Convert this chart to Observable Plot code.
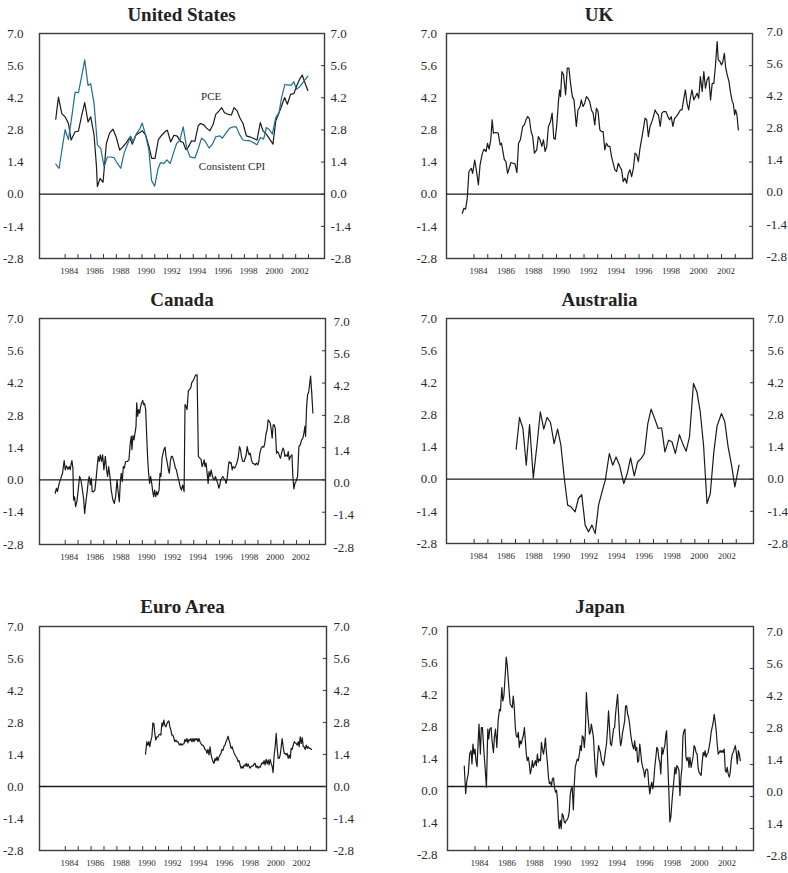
<!DOCTYPE html>
<html><head><meta charset="utf-8">
<script src="https://cdn.jsdelivr.net/npm/d3@7"></script>
<script src="https://cdn.jsdelivr.net/npm/@observablehq/plot@0.6"></script>
<style>
html,body{margin:0;padding:0;background:#fff;}
#fig{position:relative;width:788px;height:873px;background:#fff;overflow:hidden;font-family:"Liberation Serif",serif;}
.ttl{position:absolute;text-align:center;font-weight:bold;font-size:19px;line-height:19px;color:#222;white-space:nowrap;}
.pnl{position:absolute;}
</style></head><body><div id="fig"></div><script>
// ---------- tick values and labels ----------
const yTickValues = [7.0, 5.6, 4.2, 2.8, 1.4, 0.0, -1.4, -2.8];
const yTickLabels = ["7.0", "5.6", "4.2", "2.8", "1.4", "0.0", "-1.4", "-2.8"];
const japanTickLabels = ["7.0", "5.6", "4.2", "2.8", "1.4", "0.0", "1.4", "-2.8"];
const yearTicks = [1984,1985,1986,1987,1988,1989,1990,1991,1992,1993,1994,1995,1996,1997,1998,1999,2000,2001,2002,2003];
const yearLabels = [1984,1986,1988,1990,1992,1994,1996,1998,2000,2002];
const titles = ["United States", "UK", "Canada", "Australia", "Euro Area", "Japan"];
const usNotes = [{text: "PCE", year: 1995.4, value: 4.25, anchor: "middle"}, {text: "Consistent CPI", year: 1994.44, value: 1.2, anchor: "start"}];

// ---------- series [year, value] ----------
const usPce = [[1983.27,3.27],[1983.48,4.23],[1983.74,3.51],[1984.0,3.37],[1984.26,3.08],[1984.47,2.36],[1984.78,2.72],[1985.04,2.75],[1985.3,3.44],[1985.53,3.99],[1985.79,3.15],[1986.0,3.37],[1986.26,2.57],[1986.44,1.27],[1986.52,0.33],[1986.73,0.69],[1986.96,0.52],[1987.22,2.21],[1987.48,2.67],[1987.74,2.83],[1988.0,2.47],[1988.26,1.92],[1988.52,2.07],[1988.78,2.25],[1989.04,2.47],[1989.25,2.18],[1989.51,2.57],[1989.77,2.67],[1990.03,2.76],[1990.29,2.57],[1990.55,2.07],[1990.76,1.56],[1991.02,1.56],[1991.28,2.38],[1991.54,2.57],[1991.8,2.72],[1991.98,2.79],[1992.24,2.28],[1992.5,2.57],[1992.75,2.53],[1993.0,2.3],[1993.22,2.25],[1993.43,1.94],[1993.61,2.04],[1993.87,2.33],[1994.13,2.3],[1994.39,2.98],[1994.57,3.08],[1994.83,3.02],[1995.04,2.88],[1995.3,2.76],[1995.56,3.05],[1995.76,3.48],[1996.02,3.63],[1996.23,3.77],[1996.44,3.55],[1996.72,3.48],[1996.98,3.45],[1997.19,3.77],[1997.43,3.63],[1997.63,3.34],[1997.89,3.08],[1998.15,2.54],[1998.41,2.5],[1998.67,2.44],[1998.98,2.36],[1999.24,3.12],[1999.45,2.76],[1999.71,2.62],[1999.97,2.4],[2000.23,2.18],[2000.44,3.19],[2000.7,3.55],[2000.9,3.84],[2001.14,4.21],[2001.35,3.92],[2001.6,4.35],[2001.86,4.38],[2002.12,4.78],[2002.3,5.0],[2002.51,5.19],[2002.77,4.78],[2002.95,4.52]];

const usCpi = [[1983.27,1.31],[1983.53,1.13],[1983.77,2.0],[1984.0,2.81],[1984.26,2.38],[1984.52,3.37],[1984.78,4.45],[1985.04,4.42],[1985.3,5.17],[1985.53,5.85],[1985.79,4.74],[1986.0,4.81],[1986.26,3.95],[1986.52,2.15],[1986.78,2.0],[1987.04,1.2],[1987.3,1.62],[1987.56,1.62],[1987.82,1.59],[1988.08,1.34],[1988.34,1.13],[1988.6,1.78],[1988.85,2.14],[1989.11,2.53],[1989.32,2.28],[1989.58,2.64],[1989.84,2.86],[1990.02,3.1],[1990.28,2.57],[1990.54,1.92],[1990.75,0.6],[1990.99,0.35],[1991.25,1.1],[1991.45,1.38],[1991.7,1.33],[1991.95,1.5],[1992.2,1.33],[1992.45,1.78],[1992.7,2.2],[1992.96,2.36],[1993.22,2.93],[1993.48,2.04],[1993.74,1.63],[1994.13,1.58],[1994.39,1.97],[1994.65,2.44],[1994.91,2.33],[1995.24,2.01],[1995.5,2.18],[1995.76,2.5],[1996.08,2.54],[1996.28,2.44],[1996.6,2.69],[1996.85,2.88],[1997.11,2.93],[1997.37,2.93],[1997.58,2.64],[1997.89,2.36],[1998.15,2.33],[1998.41,2.33],[1998.67,2.25],[1998.98,2.15],[1999.24,2.47],[1999.5,2.4],[1999.71,2.9],[1999.92,2.83],[2000.18,2.62],[2000.44,3.34],[2000.7,3.55],[2000.9,4.21],[2001.16,4.78],[2001.4,4.75],[2001.66,4.75],[2001.86,4.9],[2002.05,4.57],[2002.3,4.67],[2002.56,4.86],[2002.95,5.14]];

const uk = [[1983.15,-0.83],[1983.27,-0.61],[1983.39,-0.65],[1983.51,-0.17],[1983.63,0.99],[1983.8,1.13],[1983.9,0.91],[1984.05,1.49],[1984.17,1.06],[1984.32,0.41],[1984.44,1.28],[1984.61,1.79],[1984.73,1.96],[1984.88,1.86],[1984.98,2.22],[1985.1,1.96],[1985.22,2.37],[1985.32,3.24],[1985.41,2.66],[1985.59,2.69],[1985.76,2.66],[1985.9,2.15],[1986.0,2.22],[1986.2,1.52],[1986.32,1.42],[1986.44,0.91],[1986.56,1.13],[1986.68,1.38],[1986.83,1.35],[1986.98,1.32],[1987.12,0.94],[1987.24,2.22],[1987.37,2.37],[1987.54,2.95],[1987.66,3.02],[1987.78,3.24],[1987.9,3.38],[1988.02,3.31],[1988.15,2.73],[1988.27,2.51],[1988.39,1.79],[1988.56,1.93],[1988.68,2.51],[1988.8,2.37],[1988.93,2.08],[1989.05,2.37],[1989.17,1.86],[1989.29,2.08],[1989.41,2.95],[1989.56,3.16],[1989.68,3.53],[1989.8,2.44],[1989.9,2.39],[1990.02,3.02],[1990.15,4.11],[1990.22,4.54],[1990.29,4.25],[1990.39,5.34],[1990.51,5.2],[1990.66,4.33],[1990.78,5.49],[1990.9,5.49],[1991.02,4.83],[1991.15,4.25],[1991.27,4.11],[1991.44,2.95],[1991.56,3.67],[1991.71,3.82],[1991.8,4.11],[1991.93,3.82],[1992.05,3.96],[1992.17,4.25],[1992.29,4.18],[1992.41,4.03],[1992.54,3.67],[1992.66,3.53],[1992.78,3.02],[1992.9,3.74],[1993.02,3.6],[1993.15,2.8],[1993.27,2.73],[1993.39,2.73],[1993.51,1.93],[1993.63,2.22],[1993.76,2.08],[1993.88,2.08],[1994.0,1.64],[1994.12,1.35],[1994.24,1.06],[1994.37,0.99],[1994.49,1.35],[1994.61,1.2],[1994.73,1.06],[1994.85,0.55],[1994.98,0.7],[1995.1,0.48],[1995.22,0.91],[1995.34,1.06],[1995.46,0.77],[1995.59,1.13],[1995.71,1.79],[1995.83,1.71],[1995.95,1.42],[1996.07,2.0],[1996.2,2.44],[1996.32,2.87],[1996.44,3.31],[1996.56,3.24],[1996.68,2.51],[1996.8,2.95],[1996.93,3.16],[1997.05,3.38],[1997.17,3.67],[1997.29,3.53],[1997.41,3.45],[1997.54,2.95],[1997.66,3.53],[1997.78,3.6],[1997.95,3.6],[1998.1,3.38],[1998.22,3.24],[1998.34,3.38],[1998.46,2.95],[1998.59,3.31],[1998.71,3.38],[1998.88,3.53],[1999.0,3.67],[1999.12,3.67],[1999.24,4.11],[1999.37,4.54],[1999.49,3.96],[1999.61,3.67],[1999.73,4.18],[1999.85,4.54],[1999.98,4.11],[2000.1,4.25],[2000.22,4.4],[2000.34,4.18],[2000.46,5.12],[2000.59,4.47],[2000.71,5.34],[2000.83,4.62],[2000.95,4.98],[2001.07,5.12],[2001.2,4.11],[2001.32,4.83],[2001.44,4.83],[2001.56,5.63],[2001.68,6.65],[2001.76,5.85],[2001.88,5.78],[2002.0,5.63],[2002.1,5.78],[2002.2,6.14],[2002.29,5.56],[2002.41,5.2],[2002.54,4.91],[2002.66,4.4],[2002.78,4.03],[2002.85,3.96],[2002.95,3.45],[2003.02,3.67],[2003.12,3.45],[2003.22,2.8]];

const canada = [[1983.22,-0.58],[1983.32,-0.36],[1983.4,-0.51],[1983.53,-0.15],[1983.66,0.07],[1983.79,0.29],[1983.92,0.84],[1984.0,0.44],[1984.1,0.61],[1984.21,0.46],[1984.31,0.58],[1984.39,0.44],[1984.47,0.73],[1984.52,0.84],[1984.6,0.51],[1984.65,-0.87],[1984.73,-0.73],[1984.81,-1.16],[1984.91,-0.94],[1985.01,-0.44],[1985.12,0.15],[1985.22,0.0],[1985.32,-0.36],[1985.43,-0.8],[1985.51,-1.45],[1985.61,-0.94],[1985.71,-0.51],[1985.79,-0.07],[1985.87,0.15],[1985.95,-0.22],[1986.03,0.07],[1986.1,-0.51],[1986.21,-0.51],[1986.31,-0.44],[1986.42,0.15],[1986.49,0.58],[1986.57,1.02],[1986.65,0.8],[1986.73,1.09],[1986.83,0.8],[1986.91,1.09],[1987.01,0.44],[1987.12,1.02],[1987.22,0.44],[1987.3,0.15],[1987.38,0.58],[1987.48,0.15],[1987.58,-0.44],[1987.71,-0.87],[1987.82,-1.02],[1987.92,-0.73],[1988.03,0.0],[1988.13,-0.58],[1988.21,-0.94],[1988.29,-0.07],[1988.36,0.29],[1988.44,-0.07],[1988.52,0.58],[1988.6,0.51],[1988.7,0.8],[1988.83,0.8],[1988.96,0.87],[1989.06,1.6],[1989.14,1.89],[1989.19,1.31],[1989.27,1.92],[1989.35,1.74],[1989.43,2.03],[1989.51,2.32],[1989.56,3.34],[1989.64,2.76],[1989.71,3.05],[1989.79,2.9],[1989.87,3.19],[1989.95,3.34],[1990.03,3.45],[1990.1,3.27],[1990.18,3.31],[1990.26,3.05],[1990.34,1.89],[1990.42,0.87],[1990.49,0.29],[1990.57,-0.15],[1990.65,0.15],[1990.73,-0.15],[1990.81,-0.51],[1990.88,-0.73],[1990.96,-0.44],[1991.04,-0.73],[1991.12,-0.51],[1991.19,-0.65],[1991.3,-0.44],[1991.38,0.29],[1991.45,0.15],[1991.53,0.94],[1991.61,1.16],[1991.69,1.34],[1991.77,1.42],[1991.84,1.02],[1991.92,0.8],[1992.03,0.44],[1992.1,0.29],[1992.18,0.8],[1992.26,1.02],[1992.34,1.02],[1992.42,0.87],[1992.49,0.73],[1992.57,0.51],[1992.65,0.44],[1992.75,0.15],[1992.83,0.0],[1992.94,-0.29],[1993.04,-0.44],[1993.14,-0.22],[1993.25,-0.51],[1993.32,3.27],[1993.4,3.19],[1993.48,3.05],[1993.58,3.85],[1993.66,3.92],[1993.77,3.99],[1993.84,4.21],[1993.92,4.28],[1994.0,4.35],[1994.1,4.5],[1994.18,4.56],[1994.26,4.56],[1994.36,1.02],[1994.47,0.94],[1994.57,0.9],[1994.65,0.58],[1994.73,0.7],[1994.81,0.87],[1994.88,0.58],[1994.96,0.73],[1995.04,0.29],[1995.12,-0.15],[1995.19,0.36],[1995.27,0.15],[1995.35,0.44],[1995.43,0.22],[1995.51,0.07],[1995.61,0.0],[1995.69,0.15],[1995.77,0.0],[1995.87,-0.15],[1995.95,-0.36],[1996.03,-0.22],[1996.1,0.0],[1996.18,0.07],[1996.26,0.15],[1996.34,0.07],[1996.44,0.0],[1996.52,-0.15],[1996.6,0.07],[1996.68,0.51],[1996.75,0.8],[1996.83,0.73],[1996.91,0.75],[1996.99,0.44],[1997.06,0.58],[1997.17,0.51],[1997.25,0.58],[1997.35,0.73],[1997.45,0.94],[1997.56,1.45],[1997.64,1.31],[1997.71,1.02],[1997.82,0.8],[1997.92,0.8],[1998.0,0.94],[1998.08,1.09],[1998.16,1.45],[1998.23,1.23],[1998.31,1.09],[1998.39,1.16],[1998.49,0.87],[1998.57,0.73],[1998.68,0.7],[1998.78,0.65],[1998.88,0.73],[1998.99,0.65],[1999.06,0.8],[1999.14,1.16],[1999.25,1.38],[1999.35,1.45],[1999.45,1.42],[1999.53,1.6],[1999.61,1.96],[1999.71,2.18],[1999.79,2.61],[1999.87,2.54],[1999.95,2.47],[2000.03,2.18],[2000.1,1.81],[2000.18,2.39],[2000.26,2.39],[2000.34,2.25],[2000.44,1.16],[2000.52,1.23],[2000.6,1.16],[2000.68,1.02],[2000.75,0.94],[2000.83,1.16],[2000.94,1.38],[2001.01,1.31],[2001.09,1.02],[2001.17,1.09],[2001.27,1.02],[2001.35,1.23],[2001.43,0.87],[2001.53,1.02],[2001.64,1.09],[2001.71,0.15],[2001.79,-0.39],[2001.87,-0.15],[2001.95,-0.07],[2002.08,0.15],[2002.18,1.45],[2002.29,1.52],[2002.39,1.74],[2002.49,1.81],[2002.57,2.03],[2002.65,2.32],[2002.7,1.89],[2002.78,3.19],[2002.86,3.7],[2002.94,3.8],[2003.01,4.14],[2003.09,4.5],[2003.17,3.85],[2003.27,2.9]];

const australia = [[1987.05,1.31],[1987.29,2.69],[1987.54,2.21],[1987.78,0.61],[1988.02,2.38],[1988.29,0.06],[1988.56,1.5],[1988.8,2.93],[1989.05,2.18],[1989.29,2.69],[1989.54,2.47],[1989.8,1.55],[1990.05,2.18],[1990.29,1.48],[1990.54,0.03],[1990.78,-1.13],[1991.02,-1.2],[1991.32,-1.42],[1991.56,-0.84],[1991.8,-0.67],[1992.05,-2.0],[1992.29,-2.29],[1992.54,-2.0],[1992.78,-2.37],[1993.02,-1.13],[1993.27,-0.55],[1993.51,-0.04],[1993.8,1.12],[1994.05,0.61],[1994.29,0.97],[1994.54,0.61],[1994.85,-0.19],[1995.1,0.25],[1995.34,0.93],[1995.61,0.15],[1995.85,0.75],[1996.1,0.9],[1996.34,1.12],[1996.59,2.42],[1996.83,3.05],[1997.07,2.67],[1997.34,2.21],[1997.59,2.24],[1997.83,1.19],[1998.1,1.7],[1998.34,1.63],[1998.59,1.12],[1998.88,1.94],[1999.12,1.55],[1999.37,1.22],[1999.61,1.84],[1999.9,4.17],[2000.15,3.8],[2000.39,2.93],[2000.63,1.48],[2000.88,-1.06],[2001.12,-0.62],[2001.37,1.16],[2001.61,2.32],[2001.93,2.86],[2002.17,2.5],[2002.41,1.41],[2002.66,0.61],[2002.9,-0.33],[2003.2,0.61]];

const euroArea = [[1990.22,1.41],[1990.32,1.96],[1990.4,1.8],[1990.48,1.96],[1990.55,1.74],[1990.63,2.0],[1990.71,2.17],[1990.79,2.78],[1990.87,2.75],[1990.94,2.32],[1991.02,2.03],[1991.1,2.17],[1991.18,2.17],[1991.25,2.25],[1991.33,2.29],[1991.41,2.25],[1991.49,2.78],[1991.56,2.64],[1991.64,2.9],[1991.72,2.68],[1991.8,2.61],[1991.88,2.75],[1991.95,2.83],[1992.03,2.87],[1992.11,2.61],[1992.19,2.46],[1992.26,2.25],[1992.34,2.25],[1992.42,2.1],[1992.5,1.96],[1992.58,2.03],[1992.65,1.96],[1992.73,1.96],[1992.81,1.86],[1992.89,1.81],[1992.96,1.88],[1993.04,1.81],[1993.12,1.86],[1993.2,1.86],[1993.27,2.06],[1993.35,1.96],[1993.43,2.1],[1993.51,1.91],[1993.59,2.06],[1993.66,2.0],[1993.74,2.1],[1993.82,1.96],[1993.9,2.1],[1993.97,1.96],[1994.05,2.1],[1994.13,2.03],[1994.21,2.1],[1994.28,1.96],[1994.36,2.1],[1994.44,1.96],[1994.52,1.88],[1994.6,1.81],[1994.67,1.81],[1994.75,1.74],[1994.83,1.62],[1994.91,1.59],[1994.98,1.45],[1995.06,1.62],[1995.14,1.38],[1995.22,1.74],[1995.3,1.38],[1995.37,1.23],[1995.45,1.09],[1995.53,1.01],[1995.61,1.23],[1995.68,1.13],[1995.76,1.3],[1995.84,1.13],[1995.92,1.3],[1995.99,1.38],[1996.07,1.45],[1996.15,1.62],[1996.23,1.59],[1996.31,1.77],[1996.38,1.81],[1996.46,1.96],[1996.54,2.06],[1996.62,2.2],[1996.69,2.03],[1996.77,1.88],[1996.85,1.67],[1996.93,1.74],[1997.01,1.59],[1997.08,1.48],[1997.16,1.38],[1997.24,1.3],[1997.32,1.23],[1997.39,1.09],[1997.47,1.13],[1997.55,0.94],[1997.63,0.8],[1997.7,0.87],[1997.78,0.8],[1997.86,0.94],[1997.94,0.9],[1998.02,1.01],[1998.09,0.87],[1998.17,0.99],[1998.25,0.87],[1998.33,0.8],[1998.4,0.87],[1998.48,0.9],[1998.56,0.9],[1998.64,0.99],[1998.72,1.01],[1998.79,0.84],[1998.87,0.9],[1998.95,0.8],[1999.03,0.87],[1999.1,0.84],[1999.18,0.94],[1999.26,1.04],[1999.34,0.99],[1999.41,1.13],[1999.49,0.94],[1999.57,1.19],[1999.65,0.99],[1999.73,1.16],[1999.8,0.94],[1999.88,1.19],[1999.96,1.01],[2000.04,0.87],[2000.11,0.61],[2000.19,1.38],[2000.27,1.74],[2000.35,2.32],[2000.42,1.74],[2000.5,1.23],[2000.58,1.23],[2000.66,1.38],[2000.74,1.74],[2000.81,2.1],[2000.89,1.74],[2000.97,1.45],[2001.05,1.45],[2001.12,1.38],[2001.2,1.45],[2001.28,1.23],[2001.36,1.38],[2001.44,1.23],[2001.51,1.67],[2001.59,1.62],[2001.67,1.81],[2001.75,1.96],[2001.82,1.91],[2001.9,1.88],[2001.98,1.81],[2002.06,1.96],[2002.13,1.74],[2002.21,2.17],[2002.29,1.88],[2002.37,2.14],[2002.45,1.74],[2002.52,1.74],[2002.6,1.62],[2002.68,1.81],[2002.76,1.67],[2002.83,1.74],[2002.91,1.67],[2002.99,1.67],[2003.09,1.62]];

const japan = [[1983.22,0.89],[1983.32,-0.32],[1983.41,0.26],[1983.51,0.55],[1983.61,1.42],[1983.71,1.57],[1983.78,0.99],[1983.85,1.86],[1983.93,1.42],[1984.0,1.64],[1984.07,1.13],[1984.15,0.87],[1984.22,1.86],[1984.29,2.73],[1984.39,1.42],[1984.46,2.58],[1984.54,2.58],[1984.63,1.71],[1984.73,0.84],[1984.83,-0.03],[1984.93,2.51],[1985.0,2.08],[1985.07,2.51],[1985.17,2.58],[1985.24,2.0],[1985.34,1.49],[1985.41,2.15],[1985.49,2.51],[1985.59,1.71],[1985.68,2.87],[1985.78,3.38],[1985.85,3.31],[1985.95,4.33],[1986.02,3.74],[1986.1,3.96],[1986.2,4.91],[1986.27,5.66],[1986.34,5.34],[1986.41,4.76],[1986.49,4.11],[1986.56,3.6],[1986.63,3.53],[1986.71,3.45],[1986.78,3.96],[1986.85,3.53],[1986.93,2.58],[1987.0,2.22],[1987.07,2.15],[1987.15,2.37],[1987.22,1.71],[1987.29,2.0],[1987.37,1.86],[1987.44,2.08],[1987.51,2.22],[1987.59,2.58],[1987.66,2.0],[1987.73,1.42],[1987.8,1.13],[1987.88,1.28],[1987.95,0.99],[1988.02,0.55],[1988.1,0.77],[1988.17,1.13],[1988.24,0.84],[1988.32,0.99],[1988.39,1.13],[1988.46,0.91],[1988.54,1.42],[1988.61,1.06],[1988.68,1.2],[1988.76,1.13],[1988.83,1.93],[1988.9,1.64],[1988.98,1.42],[1989.05,1.71],[1989.12,2.12],[1989.2,1.42],[1989.27,0.99],[1989.34,0.41],[1989.41,0.12],[1989.49,0.19],[1989.56,0.04],[1989.63,0.33],[1989.71,0.38],[1989.78,-0.03],[1989.85,-0.25],[1989.93,-0.17],[1990.0,-0.61],[1990.07,-1.48],[1990.12,-1.84],[1990.2,-1.48],[1990.27,-1.84],[1990.34,-1.19],[1990.41,-1.26],[1990.49,-1.55],[1990.56,-1.6],[1990.63,-1.48],[1990.71,-1.45],[1990.78,-1.34],[1990.85,-1.12],[1990.93,-0.32],[1991.0,-0.1],[1991.07,-0.03],[1991.15,-1.02],[1991.22,0.12],[1991.29,0.84],[1991.37,1.06],[1991.44,1.2],[1991.51,1.13],[1991.59,1.42],[1991.66,1.79],[1991.73,1.57],[1991.8,2.22],[1991.88,2.15],[1991.95,1.71],[1992.02,2.29],[1992.1,4.11],[1992.17,3.38],[1992.24,2.87],[1992.32,2.29],[1992.39,2.37],[1992.46,2.73],[1992.54,2.44],[1992.61,2.15],[1992.68,1.42],[1992.76,0.62],[1992.83,0.41],[1992.9,1.13],[1992.98,1.79],[1993.05,1.64],[1993.12,1.49],[1993.2,1.13],[1993.27,1.06],[1993.34,0.91],[1993.41,1.2],[1993.49,1.57],[1993.56,1.86],[1993.63,2.44],[1993.71,3.31],[1993.78,2.58],[1993.85,1.86],[1993.93,1.79],[1994.0,2.15],[1994.07,2.51],[1994.15,2.58],[1994.22,3.16],[1994.29,3.6],[1994.37,4.03],[1994.44,3.16],[1994.51,2.29],[1994.59,1.79],[1994.66,2.0],[1994.73,2.37],[1994.8,2.58],[1994.88,2.87],[1994.95,3.53],[1995.02,3.53],[1995.1,3.16],[1995.17,3.02],[1995.24,2.73],[1995.32,2.29],[1995.39,2.0],[1995.46,1.79],[1995.54,1.64],[1995.61,2.0],[1995.68,1.57],[1995.76,1.71],[1995.83,1.06],[1995.9,1.13],[1995.98,1.86],[1996.05,1.49],[1996.12,1.06],[1996.2,0.84],[1996.27,0.7],[1996.34,0.41],[1996.41,0.7],[1996.49,0.77],[1996.56,0.7],[1996.63,0.12],[1996.71,-0.32],[1996.78,-0.03],[1996.85,0.19],[1996.93,-0.1],[1997.0,0.26],[1997.07,0.84],[1997.15,1.28],[1997.22,1.71],[1997.29,1.64],[1997.37,1.2],[1997.44,1.06],[1997.51,0.55],[1997.59,1.71],[1997.66,1.42],[1997.73,1.64],[1997.8,1.79],[1997.88,2.29],[1997.93,2.44],[1998.02,0.99],[1998.1,-0.32],[1998.17,-1.55],[1998.24,-1.34],[1998.32,-0.68],[1998.39,-0.17],[1998.46,0.26],[1998.54,0.84],[1998.61,0.55],[1998.68,0.91],[1998.76,0.84],[1998.83,0.7],[1998.9,-0.39],[1998.98,0.41],[1999.05,0.84],[1999.12,2.22],[1999.2,2.44],[1999.27,2.51],[1999.34,1.28],[1999.41,1.13],[1999.49,1.28],[1999.56,0.84],[1999.63,1.28],[1999.71,0.84],[1999.78,1.06],[1999.85,1.28],[1999.93,1.79],[2000.0,1.71],[2000.07,1.49],[2000.15,1.42],[2000.22,0.84],[2000.29,0.62],[2000.37,0.55],[2000.44,0.48],[2000.51,0.99],[2000.59,1.49],[2000.66,1.35],[2000.73,1.57],[2000.8,1.28],[2000.88,1.42],[2000.95,1.49],[2001.02,1.71],[2001.1,2.0],[2001.17,2.37],[2001.24,2.58],[2001.32,2.8],[2001.39,3.16],[2001.46,2.87],[2001.54,2.44],[2001.61,1.86],[2001.68,1.42],[2001.76,1.49],[2001.83,1.57],[2001.9,1.49],[2001.98,1.57],[2002.05,1.49],[2002.12,1.64],[2002.2,0.7],[2002.27,0.62],[2002.34,0.84],[2002.41,0.55],[2002.49,0.41],[2002.56,0.62],[2002.63,1.13],[2002.71,1.42],[2002.78,1.49],[2002.85,1.64],[2002.93,1.79],[2003.0,1.49],[2003.07,0.99],[2003.15,1.57],[2003.22,1.42],[2003.29,1.13]];

// ---------- drawing ----------
const BLACK = "#1a1a1a", TEAL = "#1c6f8e", INK = "#2a2a2a";
const panels = [
  {title: titles[0], left: 0,   L: 39,  R: 324, T: 33,  B: 258, base: 20.7,  series: [{data: usPce, color: BLACK}, {data: usCpi, color: TEAL}], notes: usNotes, padL: 16, padR: 6},
  {title: titles[1], left: 394, L: 446, R: 752, T: 33,  B: 258, base: 20.7,  series: [{data: uk, color: BLACK}], padL: 9.5, padR: 14, rightDy: -2},
  {title: titles[2], left: 0,   L: 39,  R: 325, T: 318, B: 544, base: 305.7, series: [{data: canada, color: BLACK}], padL: 16, padR: 8, rightDy: 3},
  {title: titles[3], left: 394, L: 446, R: 753, T: 318, B: 543, base: 305.7, series: [{data: australia, color: BLACK}], padL: 9.5, padR: 14},
  {title: titles[4], left: 0,   L: 39,  R: 326, T: 626, B: 850, base: 612.7, series: [{data: euroArea, color: BLACK}], padL: 16, padR: 7},
  {title: titles[5], left: 394, L: 447, R: 753, T: 626, B: 850, base: 612.7, series: [{data: japan, color: BLACK}], padL: 10, padR: 13, labels: japanTickLabels, labelDy: 4, rightDy: 5, tickDy: 10}
];

const fig = document.getElementById("fig");
const W = 394, padTop = 12, padBottom = 26;

panels.forEach(p => {
  const labels = p.labels || yTickLabels;
  const labelMap = new Map(yTickValues.map((v, i) => [v, labels[i]]));
  const fmt = d => labelMap.get(d);
  const height = (p.B - p.T) + padTop + padBottom;
  const marks = [
    Plot.frame({stroke: "#3a3a3a", strokeWidth: 1.4}),
    Plot.ruleY([0], {stroke: BLACK, strokeWidth: 1.3}),
    Plot.axisX(yearTicks, {anchor: "bottom", tickSize: 4, dy: -4, fill: "none", stroke: "#333", label: null}),
    Plot.axisX(yearLabels.map(y => y + 0.32), {anchor: "bottom", tickSize: 0, tickPadding: 9, tickFormat: d => String(Math.round(d - 0.32)), fontSize: 9, fill: INK, label: null}),
    Plot.axisY(yTickValues, {anchor: "left", tickSize: 0, tickPadding: p.padL, tickFormat: fmt, fontSize: 13, fill: INK, label: null, dy: p.labelDy || 0}),
    Plot.axisY(yTickValues, {anchor: "right", tickSize: 0, tickPadding: p.padR, tickFormat: fmt, fontSize: 13, fill: INK, label: null, dy: p.rightDy || 0}),
    Plot.axisY(yTickValues.slice(1, -1), {anchor: "right", tickSize: 4, dx: -4, dy: p.tickDy || 0, fill: "none", stroke: "#333", label: null})
  ];
  p.series.forEach(s => marks.push(Plot.line(s.data, {x: d => d[0], y: d => d[1], stroke: s.color, strokeWidth: 1.2})));
  if (p.notes) p.notes.forEach(n => marks.push(Plot.text([n], {x: "year", y: "value", text: "text", textAnchor: n.anchor, fontSize: 11, fill: INK})));

  const svg = Plot.plot({
    width: W, height,
    marginTop: padTop, marginBottom: padBottom,
    marginLeft: p.L - p.left, marginRight: p.left + W - p.R,
    x: {domain: [1982, 2004.25], label: null},
    y: {domain: [-2.8, 7.0], label: null},
    style: {fontFamily: '"Liberation Serif", serif', fontSize: "12px", color: INK, background: "transparent", overflow: "visible"},
    marks
  });
  const wrap = document.createElement("div");
  wrap.className = "pnl";
  wrap.style.left = p.left + "px";
  wrap.style.top = (p.T - padTop) + "px";
  wrap.appendChild(svg);
  fig.appendChild(wrap);

  const t = document.createElement("div");
  t.className = "ttl";
  t.style.left = p.L + "px";
  t.style.width = (p.R - p.L) + "px";
  t.style.top = (p.base - 15.9) + "px";
  t.textContent = p.title;
  fig.appendChild(t);
});
</script></body></html>
